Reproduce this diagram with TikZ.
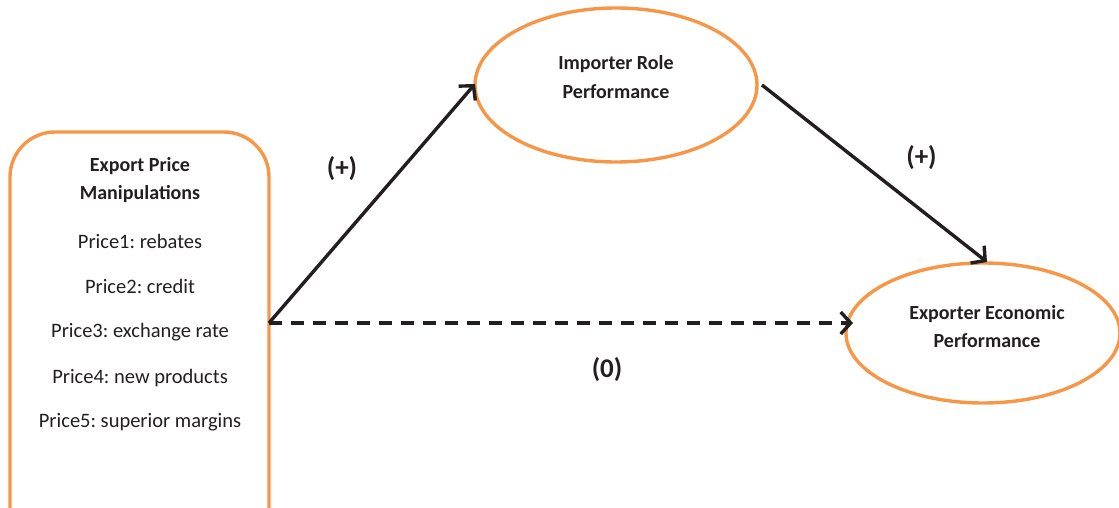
\documentclass[tikz,border=0pt]{standalone}
\usepackage{fontspec}
\setmainfont{Carlito}
\usetikzlibrary{arrows.meta,shapes.geometric}
\definecolor{boxorange}{HTML}{F79646}
\definecolor{ink}{HTML}{231F20}
\tikzset{
  frame/.style={draw=boxorange, line width=3.4pt},
  oval/.style={frame, ellipse, inner sep=0pt},
  lbl/.style={font=\fontsize{20.5}{24}\selectfont, text=ink, inner sep=0pt},
  head/.style={lbl, font=\fontsize{20}{24}\selectfont\bfseries},
  sign/.style={lbl, font=\fontsize{27}{30}\selectfont\bfseries},
  conn/.style={draw=ink, line width=3.4pt, -{Straight Barb[length=10pt,width=22pt,line width=3.4pt]}},
}
\frenchspacing
\begin{document}
\begin{tikzpicture}[x=1pt,y=-1pt]
\useasboundingbox (0,0) rectangle (1119,508);
\begin{scope}
\clip (0,0) rectangle (1119,508);
\draw[frame, rounded corners=45pt] (10,132) rectangle (269,560);
\node[oval, minimum width=282pt, minimum height=154pt] (imp) at (616,85) {};
\node[oval, minimum width=274pt, minimum height=140pt] (exp) at (983,333) {};
\end{scope}
\coordinate (src) at (269,323);
\node[head] (h1) at (140,166) {Export Price};
\node[head] (h2) at (140,194) {Manipulations};
\node[lbl] (p1) at (140,241) {Price1: rebates};
\node[lbl] (p2) at (140,286) {Price2: credit};
\node[lbl] (p3) at (140,332) {Price3: exchange rate};
\node[lbl] (p4) at (140,378) {Price4: new products};
\node[lbl] (p5) at (140,422) {Price5: superior margins};
\node[head] (i1) at (616,64) {Importer Role};
\node[head] (i2) at (616,92) {Performance};
\node[head] (e1) at (987,314) {Exporter Economic};
\node[head] (e2) at (987,341) {Performance};
\node[sign] (l1) at (342,169) {(+)};
\node[sign] (l2) at (921.5,158) {(+)};
\node[sign] (l3) at (607,370) {(0)};
\coordinate (impin) at (475,84);
\coordinate (impout) at (762,85);
\coordinate (expin) at (987,262);
\coordinate (expw) at (853,323);
\draw[conn] (src) -- (impin);
\draw[conn] (impout) -- (expin);
\draw[conn, dash pattern=on 13pt off 9pt] (src) -- (expw);
\end{tikzpicture}
\end{document}
